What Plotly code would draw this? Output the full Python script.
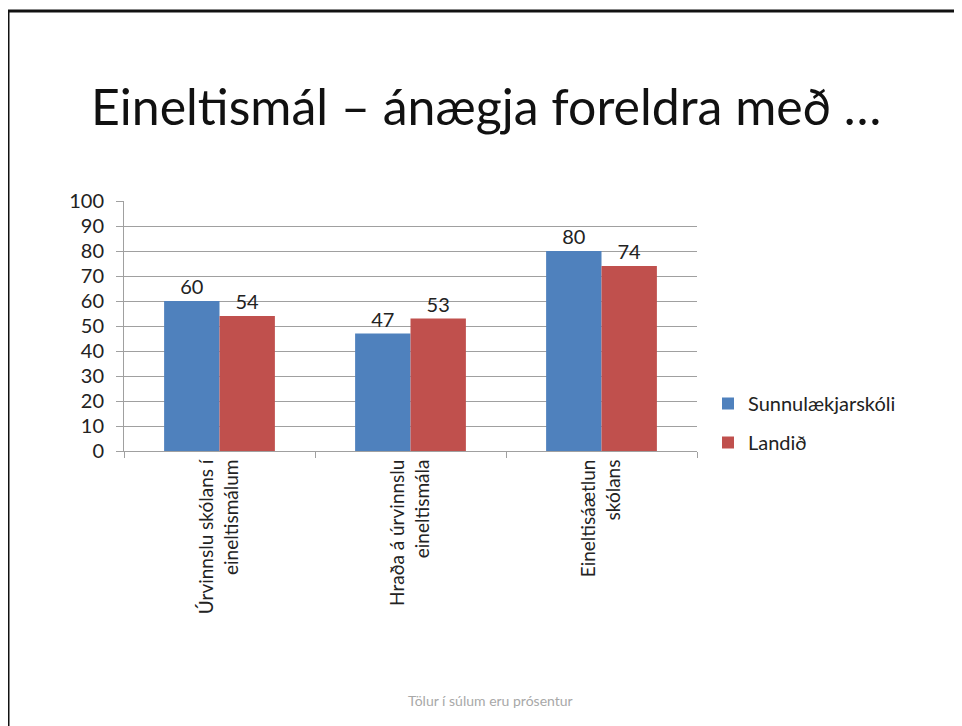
import plotly.graph_objects as go

categories = ["Úrvinnslu skólans í<br>eineltismálum",
              "Hraða á úrvinnslu<br>eineltismála",
              "Eineltisáætlun<br>skólans"]
skoli = [60, 47, 80]
landid = [54, 53, 74]
yticks = list(range(0, 101, 10))

# síðan er með 8px spássíu, allt hnikast um það
OFF = 8
W, H = 962 - OFF, 726 - OFF
L, R, T, B = 124 - OFF, 962 - 697, 201 - OFF, 726 - 451
pw, ph = W - L - R, H - T - B


def px_x(x):
    return (x - OFF - L) / pw


def px_y(y):
    return (H - B - (y - OFF)) / ph


fig = go.Figure()
fig.add_trace(go.Bar(x=categories, y=skoli, name="Sunnulækjarskóli",
                     marker_color="#4F81BD", marker_line_width=0,
                     text=skoli, textposition="outside", cliponaxis=False,
                     legendgroup="a"))
fig.add_trace(go.Bar(x=categories, y=landid, name="Landið",
                     marker_color="#C0504D", marker_line_width=0,
                     text=landid, textposition="outside", cliponaxis=False,
                     legendgroup="b"))

fig.update_traces(textfont=dict(size=20, color="#222"))

fig.update_layout(
    width=W, height=H,
    margin=dict(l=L, r=R, t=T, b=B),
    paper_bgcolor="white", plot_bgcolor="white",
    font=dict(family="Lato, Calibri, sans-serif", color="#222"),
    barmode="group", bargap=0.42, bargroupgap=0,
    showlegend=True,
    legend=dict(x=px_x(708), y=px_y(384), xanchor="left", yanchor="top",
                font=dict(size=20), traceorder="grouped", tracegroupgap=10,
                itemwidth=30),
)

fig.update_yaxes(range=[0, 100], tickvals=yticks, showgrid=True,
                 gridcolor="#A0A0A0", gridwidth=1,
                 showline=True, linecolor="#A0A0A0", linewidth=1,
                 ticks="outside", ticklen=7, tickcolor="#A0A0A0",
                 ticklabelstandoff=8,
                 tickfont=dict(size=20), zeroline=False)
fig.update_xaxes(showline=True, linecolor="#A0A0A0", linewidth=1,
                 ticks="outside", ticklen=6, tickcolor="#A0A0A0",
                 tickson="boundaries", tickangle=-90,
                 tickfont=dict(size=19))

# titill
fig.add_annotation(text="Eineltismál – ánægja foreldra með …",
                   x=px_x(486), y=px_y(106), xref="paper", yref="paper",
                   showarrow=False, font=dict(size=50, color="#111"),
                   xanchor="center", yanchor="middle")
# neðanmálsgrein
fig.add_annotation(text="Tölur í súlum eru prósentur",
                   x=px_x(490), y=px_y(700), xref="paper", yref="paper",
                   showarrow=False, font=dict(size=14, color="#A8A8A8"),
                   xanchor="center", yanchor="middle")

# rammi um glæruna
fig.add_shape(type="path", xref="paper", yref="paper",
              path=f"M {px_x(8)},{px_y(760)} L {px_x(8)},{px_y(11)} L {px_x(1000)},{px_y(11)}",
              line=dict(color="#111", width=3))

fig.write_html("out.html")
